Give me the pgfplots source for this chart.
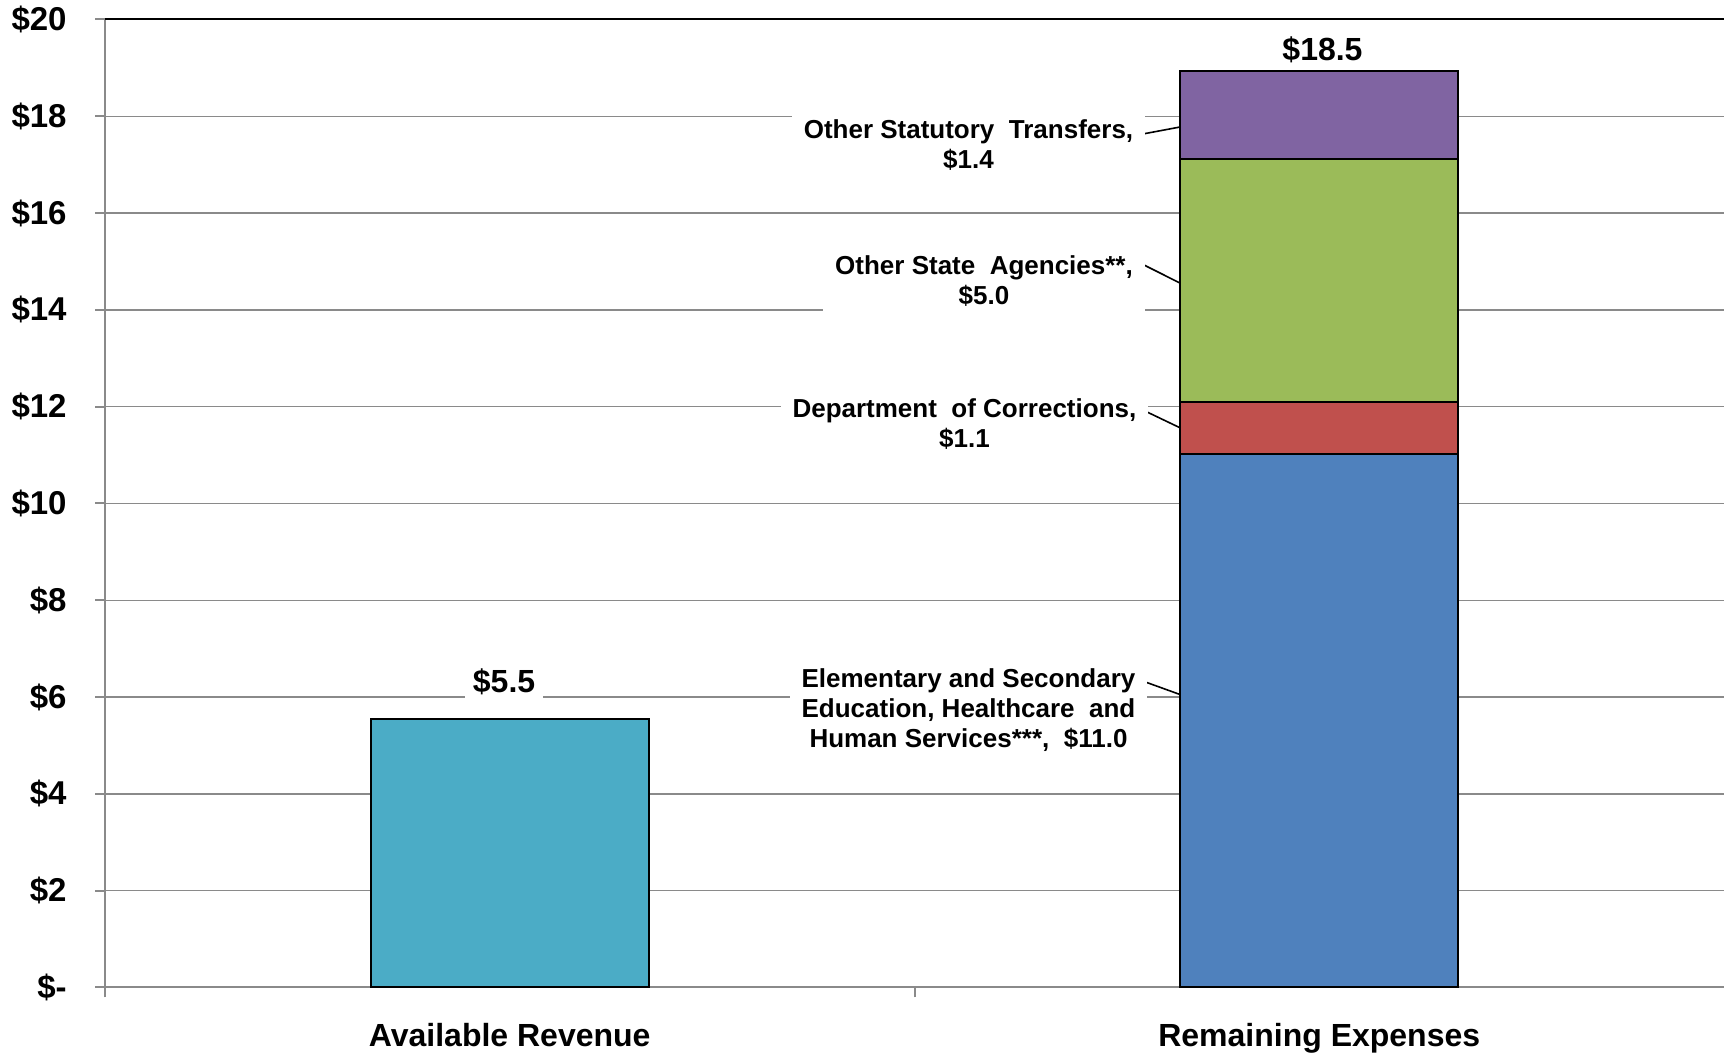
\documentclass[border=0pt]{standalone}
\usepackage{fontspec}
\setmainfont{Liberation Sans}
\usepackage{pgfplots}
\pgfplotsset{compat=1.18}
\definecolor{cRev}{HTML}{4BACC6}
\definecolor{cBlue}{HTML}{4F81BD}
\definecolor{cRed}{HTML}{C0504D}
\definecolor{cGreen}{HTML}{9BBB59}
\definecolor{cPurple}{HTML}{8064A2}
\definecolor{gridgray}{HTML}{8A8A8A}
\begin{document}
\begin{tikzpicture}
\begin{axis}[
  at={(0,0)}, anchor=south west,
  scale only axis, width=809.5pt, height=484pt,
  xmin=-0.5, xmax=1.5, ymin=0, ymax=20,
  ybar stacked, bar width=0.343,
  axis x line=bottom, axis y line=left,
  axis line style={-, draw=gridgray, line width=1pt},
  ytick={0,2,...,20},
  yticklabels={\$-,\$2,\$4,\$6,\$8,\$10,\$12,\$14,\$16,\$18,\$20},
  ymajorgrids, grid style={draw=gridgray, line width=0.75pt},
  tick align=outside,
  major tick length=5pt,
  tick style={draw=gridgray, line width=1pt},
  xtick={-0.5,0.5}, xticklabels={},
  extra x ticks={0,1},
  extra x tick labels={Available Revenue, Remaining Expenses},
  extra x tick style={major tick length=0pt, grid=none},
  yticklabel style={font=\bfseries\fontsize{16.5}{19}\selectfont, anchor=east, inner sep=0pt, xshift=-14pt},
  xticklabel style={font=\bfseries\fontsize{16}{19}\selectfont, anchor=north, inner sep=0pt, yshift=-17.6pt},
  clip=false,
  every axis plot/.append style={draw=black, line width=1pt},
]
\addplot[fill=cRev] coordinates {(0,5.55) (1,0)};
\addplot[fill=cBlue] coordinates {(0,0) (1,11.02)};
\addplot[fill=cRed] coordinates {(0,0) (1,1.08)};
\addplot[fill=cGreen] coordinates {(0,0) (1,5.02)};
\addplot[fill=cPurple] coordinates {(0,0) (1,1.81)};

\draw[black, line width=1pt] (axis cs:-0.5,20) -- (axis cs:1.5,20);

\tikzset{lab/.style={font=\bfseries\fontsize{13}{15}\selectfont, align=center, fill=white, inner xsep=6pt, inner ysep=4pt}}
\node[lab] at (axis cs:0.5667,17.40) {Other Statutory\ \ Transfers,\\\$1.4};
\node[lab] at (axis cs:0.5859,14.60) {Other State\ \ Agencies**,\\\$5.0};
\node[lab] at (axis cs:0.5617,11.65) {Department\ \ of Corrections,\\\$1.1};
\node[lab] at (axis cs:0.5667,5.73) {Elementary and Secondary\\Education, Healthcare\ \ and\\Human Services***, \ \$11.0};
\node[font=\bfseries\fontsize{16}{19}\selectfont, fill=white, inner xsep=4pt, inner ysep=3pt] at (axis cs:-0.007,6.32) {\$5.5};
\node[font=\bfseries\fontsize{16}{19}\selectfont, fill=white, inner xsep=4pt, inner ysep=3pt] at (axis cs:1.004,19.37) {\$18.5};

\draw[black, line width=0.8pt] (axis cs:0.7712,17.60) -- (axis cs:0.8285,17.78);
\draw[black, line width=0.8pt] (axis cs:0.7761,14.99) -- (axis cs:0.8285,14.55);
\draw[black, line width=0.8pt] (axis cs:0.7761,11.98) -- (axis cs:0.8285,11.56);
\draw[black, line width=0.8pt] (axis cs:0.7872,6.30) -- (axis cs:0.8285,6.05);
\end{axis}
\pgfresetboundingbox
\useasboundingbox (-52.5pt,-33.15pt) rectangle (809.5pt,493.75pt);
\end{tikzpicture}
\end{document}
